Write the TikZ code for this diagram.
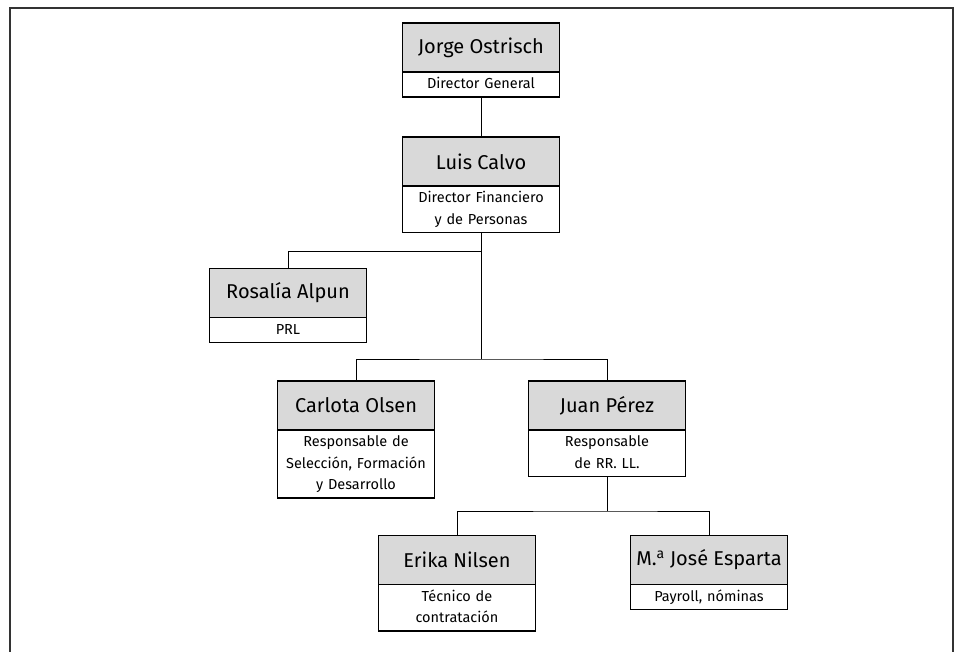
\documentclass[tikz,border=0pt]{standalone}
\usepackage{fontspec}
\setmainfont{Fira Sans}
\usetikzlibrary{positioning}
\definecolor{cabecera}{HTML}{D9D9D9}

\tikzset{
  persona/.style={draw, fill=cabecera, line width=1.1pt, minimum width=157pt,
                  minimum height=49pt, inner sep=0pt, outer sep=0pt,
                  font=\fontsize{20}{22}\selectfont},
  cargo/.style={draw, fill=white, line width=1.1pt, text width=150pt,
                inner xsep=3.5pt, inner ysep=1.75pt, outer sep=0pt, align=center,
                font=\fontsize{14.5}{21.5}\selectfont,
                execute at begin node=\strut, execute at end node=\strut},
  enlace/.style={line width=1pt}
}

\begin{document}
\begin{tikzpicture}[x=1pt,y=-1pt]

  \useasboundingbox (0,0) rectangle (961,652);
  \draw[line width=1.5pt, black!80] (10,652) -- (10,8) -- (953,8) -- (953,652);

  \node[persona] (jorge)   at (481,47.5)  {Jorge Ostrisch};
  \node[cargo]   (jorge-r) [below=0pt of jorge] {Director General};
  \node[persona] (luis)    at (481,161.5) {Luis Calvo};
  \node[cargo]   (luis-r)  [below=0pt of luis] {Director Financiero\\ y de Personas};
  \node[persona] (rosalia) at (288,293)   {Rosalía Alpun};
  \node[cargo]   (rosalia-r) [below=0pt of rosalia] {PRL};
  \node[persona] (carlota) at (356,405.5) {Carlota Olsen};
  \node[cargo]   (carlota-r) [below=0pt of carlota] {Responsable de\\ Selección, Formación\\ y Desarrollo};
  \node[persona] (juan)    at (607,405.5) {Juan Pérez};
  \node[cargo]   (juan-r)  [below=0pt of juan] {Responsable\\ de RR. LL.};
  \node[persona] (erika)   at (457,560)   {Erika Nilsen};
  \node[cargo]   (erika-r) [below=0pt of erika] {Técnico de\\ contratación};
  \node[persona] (jose)    at (709,560)   {M.\textsuperscript{a} José Esparta};
  \node[cargo]   (jose-r)  [below=0pt of jose] {Payroll, nóminas};

  \coordinate (rama1) at (481,252);
  \coordinate (rama2) at (481,359);
  \coordinate (rama3) at (607,511);

  \begin{scope}[enlace]
    \draw (jorge-r) -- (luis);
    \draw (luis-r.south) -- (rama2);
    \draw (rosalia) |- (rama1);
    \draw (carlota) |- (rama2) -| (juan);
    \draw (juan-r.south) -- (rama3);
    \draw (erika) |- (rama3) -| (jose);
  \end{scope}
\end{tikzpicture}
\end{document}
